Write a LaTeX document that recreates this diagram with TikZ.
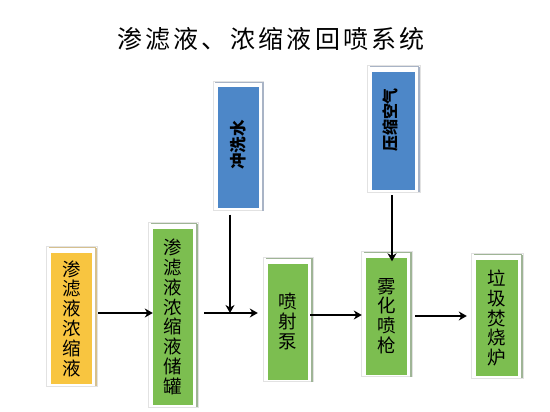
\documentclass[tikz,border=0pt]{standalone}
\usepackage{fontspec}
\setmainfont{Noto Sans CJK SC}
\usetikzlibrary{arrows.meta,backgrounds}
\definecolor{yfill}{HTML}{F8C540}
\definecolor{gfill}{HTML}{7CBE50}
\definecolor{bfill}{HTML}{4D87C8}
\definecolor{yedge}{HTML}{D6C08E}
\definecolor{gedge}{HTML}{9FB596}
\definecolor{bedge}{HTML}{A9B4C6}
\definecolor{frameline}{HTML}{E2E2E2}
\tikzset{
  boxbase/.style={rectangle, inner sep=0pt, align=center, text=black},
  vtext/.style={font=\fontsize{18.5}{19.8}\selectfont},
  ybox/.style={boxbase, vtext, fill=yfill},
  gbox/.style={boxbase, vtext, fill=gfill},
  bbox/.style={boxbase, fill=bfill},
  rtext/.style={rotate=90, font=\fontsize{16.5}{17}\selectfont\bfseries, inner sep=0pt},
  frameout/.style={draw=frameline, fill=white, line width=1pt},
  edgeline/.style={line width=1.6pt},
  flow/.style={draw=black, line width=1.1pt, -{Stealth[length=8pt,width=9pt,inset=2.5pt]}},
}
\newcommand{\mkframe}[2]{%
  \begin{scope}[on background layer]
    \draw[frameout] ([shift={(-4,-6)}]#1.north west) rectangle ([shift={(5,2)}]#1.south east);
    \draw[edgeline,#2] ([shift={(4,-5)}]#1.north east) -- ([shift={(4,2)}]#1.south east);
    \draw[#2,line width=0.8pt] ([shift={(-2,-5)}]#1.north west) -- ([shift={(4,-5)}]#1.north east);
  \end{scope}}
\begin{document}
\begin{tikzpicture}[x=1pt,y=-1pt]
  \useasboundingbox (0,0) rectangle (550,412);
  \def\tk{\kern3.3pt}
  \node[font=\fontsize{25}{27}\selectfont, inner sep=0pt] (title) at (271,39)
    {渗\tk 滤\tk 液\tk 、\tk 浓\tk 缩\tk 液\tk 回\tk 喷\tk 系\tk 统};

  \node[ybox, minimum width=41, minimum height=131] (leach) at (71.5,318.5)
    {渗\\滤\\液\\浓\\缩\\液};
  \node[gbox, minimum width=40, minimum height=176] (tank) at (173,317)
    {渗\\滤\\液\\浓\\缩\\液\\储\\罐};
  \node[bbox, minimum width=41, minimum height=121] (flush) at (238,148) {};
  \node[rtext] (flushtxt) at (238,145) {冲洗水};
  \node[bbox, minimum width=43, minimum height=118] (air) at (393.5,131) {};
  \node[rtext, font=\fontsize{16}{17}\selectfont\bfseries] (airtxt) at (390,120) {压缩空气};
  \node[gbox, minimum width=40, minimum height=116] (pump) at (288,321.5)
    {喷\\射\\泵};
  \node[gbox, minimum width=41, minimum height=117] (spray) at (386.5,316)
    {雾\\化\\喷\\枪};
  \node[gbox, minimum width=42, minimum height=116] (incin) at (497,318)
    {垃\\圾\\焚\\烧\\炉};

  \mkframe{leach}{yedge}
  \mkframe{tank}{gedge}
  \mkframe{flush}{bedge}
  \mkframe{air}{bedge}
  \mkframe{pump}{gedge}
  \mkframe{spray}{gedge}
  \mkframe{incin}{gedge}

  \coordinate (j) at (230,313);
  \draw[flow] ([xshift=6pt]leach.east |- 0,313) -- (tank.west |- 0,313);
  \draw[flow] ([xshift=11pt]tank.east |- 0,313) -- ([xshift=-10pt]pump.west |- 0,313);
  \draw[flow] ([yshift=-6pt]flush.south -| j) -- (j);
  \draw[flow] ([xshift=2pt]pump.east |- 0,315) -- ([xshift=-4pt]spray.west |- 0,315);
  \draw[flow] ([yshift=-5pt]air.south -| 392,0) -- ([yshift=-4pt]spray.north -| 392,0);
  \draw[flow] ([xshift=8pt]spray.east |- 0,316) -- ([xshift=-9pt]incin.west |- 0,316);
\end{tikzpicture}
\end{document}
